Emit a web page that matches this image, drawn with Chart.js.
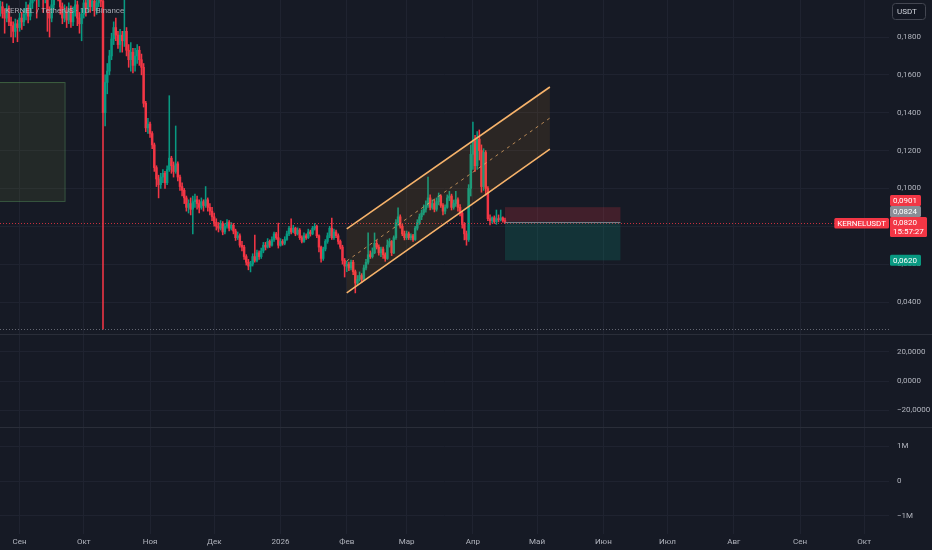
<!DOCTYPE html>
<html lang="ru">
<head>
<meta charset="UTF-8">
<title>KERNELUSDT 1D</title>
<script src="https://cdn.jsdelivr.net/npm/chart.js@4"></script>
<style>
  body { margin: 0; background: #2a2e39; width: 932px; height: 550px; overflow: hidden; position: relative; }
  .pane { position: absolute; left: 0; width: 932px; background: #161a25; }
  #p1 { top: 0; height: 334px; }
  #p2 { top: 335px; height: 92px; }
  #p3 { top: 428px; height: 122px; }
</style>
</head>
<body>
<div class="pane" id="p1"><canvas id="priceChart"></canvas></div>
<div class="pane" id="p2"><canvas id="oscChart"></canvas></div>
<div class="pane" id="p3"><canvas id="volChart"></canvas></div>

<script>
  // Дневные свечи KERNEL/USDT, цены в единицах 0,0001 USDT
  const firstCandle = '2025-08-23';

  const opens = [
    1940,1960,1925,1900,1950,1880,1860,1830,1870,1850,
    1900,1880,1920,1950,1910,1980,2030,2060,2010,2050,
    2080,2020,2060,1930,1900,1970,2040,2080,2030,1960,
    1900,1940,1890,1950,1880,1930,1970,1900,1870,1920,
    1980,1950,2000,1960,1990,1940,1980,2020,1990,1400,
    1560,1620,1700,1790,1850,1810,1760,1810,1780,1830,
    1730,1680,1720,1650,1700,1730,1680,1640,1450,1320,
    1340,1290,1230,1110,1050,1020,1060,1080,1030,1100,
    1160,1120,1090,1130,1060,1010,990,950,900,920,
    890,930,940,920,900,930,910,940,900,880,
    850,820,800,790,815,770,800,820,790,805,
    775,740,750,700,690,640,610,590,600,640,
    620,660,640,670,700,690,720,700,730,760,
    740,700,720,710,730,760,790,770,790,760,
    780,740,720,750,740,770,760,790,800,750,
    690,630,680,720,750,790,740,770,750,720,
    690,620,590,600,580,610,560,500,520,540,
    520,580,610,650,640,660,710,690,660,680,
    650,630,700,720,660,740,820,850,800,760,
    740,760,740,750,730,790,820,850,870,890,
    910,950,900,920,890,930,960,910,880,900,
    950,960,900,920,940,900,870,810,760,730,
    1000,1180,1250,1120,1260,1200,1010,1190,1000,840,
    830,845,825,840,835,845,830
  ];
  const highs = [
    1990,1985,1950,1975,1965,1905,1880,1895,1890,1925,
    1930,1950,1985,1970,2010,2060,2100,2080,2090,2120,
    2100,2090,2070,1960,2000,2070,2110,2100,2050,1980,
    1970,1960,1980,1965,1960,2000,1990,1930,1950,2010,
    2000,2030,2020,2020,2010,2010,2050,2040,2030,1600,
    1660,1730,1820,1880,1900,1830,1840,1830,2000,1850,
    1760,1770,1740,1740,1760,1750,1710,1660,1460,1370,
    1350,1300,1240,1120,1070,1080,1100,1090,1120,1490,
    1170,1140,1330,1140,1070,1030,1000,960,940,950,
    960,970,960,940,950,940,1010,950,920,900,
    870,840,820,830,825,815,835,830,820,815,
    785,770,760,720,700,650,625,615,655,754,
    675,670,685,715,715,735,728,745,770,768,
    817,735,730,745,775,800,839,805,795,792,
    788,750,765,760,785,780,800,815,807,755,
    695,690,730,765,800,844,785,780,760,728,
    700,630,615,611,622,620,569,540,559,550,
    595,625,765,670,686,765,725,702,690,690,
    660,728,735,725,750,835,897,860,810,775,
    775,770,760,758,800,835,865,886,913,935,
    1060,966,940,939,950,976,966,920,913,966,
    985,970,939,985,950,915,880,820,775,1020,
    1230,1351,1280,1300,1309,1230,1210,1200,1010,860,
    850,855,886,860,886,850,844
  ];
  const lows = [
    1910,1900,1820,1880,1860,1800,1770,1800,1775,1830,
    1840,1860,1890,1875,1890,1950,1990,1900,1960,2010,
    1930,1980,1830,1800,1880,1950,2000,1990,1920,1870,
    1880,1850,1870,1850,1860,1910,1860,1820,1780,1900,
    1910,1930,1930,1940,1910,1920,1960,1960,257,1330,
    1500,1600,1680,1760,1780,1740,1720,1720,1750,1700,
    1640,1620,1610,1620,1660,1650,1600,1430,1300,1290,
    1270,1210,1090,1010,950,1000,1030,1000,1020,1090,
    1080,1060,1080,1040,990,960,920,880,870,860,
    760,900,890,870,890,880,900,880,860,830,
    800,780,770,780,755,760,790,775,780,760,
    725,730,690,670,625,595,570,559,590,610,
    612,625,630,660,675,685,688,695,720,730,
    685,695,700,702,725,750,760,765,750,754,
    730,712,715,730,735,748,755,780,740,664,
    611,620,670,710,740,730,730,740,705,680,
    600,532,560,565,569,545,448,490,510,505,
    515,570,600,630,632,655,680,648,640,630,
    615,625,690,645,655,730,805,790,750,728,
    730,730,728,720,725,780,810,835,860,875,
    900,886,890,876,880,913,900,860,865,895,
    935,886,890,905,880,855,790,728,700,720,
    960,1100,1090,1100,1150,980,990,965,830,807,
    817,815,810,823,828,822,815
  ];
  const closes = [
    1960,1925,1900,1950,1880,1860,1830,1870,1850,1900,
    1880,1920,1950,1910,1980,2030,2060,2010,2050,2080,
    2020,2060,1930,1900,1970,2040,2080,2030,1960,1900,
    1940,1890,1950,1880,1930,1970,1900,1870,1920,1980,
    1950,2000,1960,1990,1940,1980,2020,1990,1400,1560,
    1620,1700,1790,1850,1810,1760,1810,1780,1830,1730,
    1680,1720,1650,1700,1730,1680,1640,1450,1320,1340,
    1290,1230,1110,1050,1020,1060,1080,1030,1100,1160,
    1120,1090,1130,1060,1010,990,950,900,920,890,
    930,940,920,900,930,910,940,900,880,850,
    820,800,790,815,770,800,820,790,805,775,
    740,750,700,690,640,610,590,600,640,620,
    660,640,670,700,690,720,700,730,760,740,
    700,720,710,730,760,790,770,790,760,780,
    740,720,750,740,770,760,790,800,750,690,
    630,680,720,750,790,740,770,750,720,690,
    620,590,600,580,610,560,500,520,540,520,
    580,610,650,640,660,710,690,660,680,650,
    630,700,720,660,740,820,850,800,760,740,
    760,740,750,730,790,820,850,870,890,910,
    950,900,920,890,930,960,910,880,900,950,
    960,900,920,940,900,870,810,760,730,1000,
    1180,1250,1120,1260,1200,1010,1190,1000,840,830,
    845,825,840,835,845,830,820
  ];

  const priceTicks = [0.04, 0.06, 0.08, 0.10, 0.12, 0.14, 0.16, 0.18];
  const monthStarts = ['2025-09-01','2025-10-01','2025-11-01','2025-12-01','2026-01-01','2026-02-01','2026-03-01',
                       '2026-04-01','2026-05-01','2026-06-01','2026-07-01','2026-08-01','2026-09-01','2026-10-01'];
  const monthLabels = ['Сен','Окт','Ноя','Дек','2026','Фев','Мар','Апр','Май','Июн','Июл','Авг','Сен','Окт'];
  const oscTicks = [-20, 0, 20];
  const volTicks = [-1000000, 0, 1000000];
  const volLabels = ['−1M', '0', '1M'];

  // рисунки на графике
  const channelFrom = '2026-02-01', channelTo = '2026-05-07';
  const channelUpper = [0.0786, 0.1536];
  const channelLower = [0.0448, 0.1208];
  const zoneFrom = '2025-08-01', zoneTo = '2025-09-22';
  const zonePrices = [0.0934, 0.1562];
  const posFrom = '2026-04-16', posTo = '2026-06-09';
  const posEntry = 0.0824, posStop = 0.0901, posTarget = 0.0620;
  const symbol = 'KERNELUSDT';
  const countdown = '15:57:27';
  const title = 'KERNEL / TetherUS · 1D · Binance';

  const UP = '#089981', DOWN = '#f23645';
  const GRID = '#1f2330', TEXT = '#b2b5be';
  const FONT = 'Roboto, sans-serif';

  const DAY0 = Date.UTC(2025, 8, 1);
  function dayOf(s) {
    const p = s.split('-').map(Number);
    return (Date.UTC(p[0], p[1] - 1, p[2]) - DAY0) / 864e5;
  }
  const fmt = v => v.toFixed(4).replace('.', ',');

  const start = dayOf(firstCandle);
  const bodies = closes.map((c, i) => ({ x: start + i, y: [opens[i] * 1e-4, c * 1e-4] }));
  const wicks = closes.map((c, i) => ({ x: start + i, y: [lows[i] * 1e-4, highs[i] * 1e-4] }));
  const colors = closes.map((c, i) => c >= opens[i] ? UP : DOWN);
  const lastClose = closes[closes.length - 1] * 1e-4;
  const lowest = Math.min(...lows) * 1e-4;

  function xAxis(showLabels) {
    return {
      type: 'linear', min: -9.17, max: 406.6, offset: false,
      grid: { color: GRID, drawTicks: false, offset: false },
      border: { display: false },
      ticks: {
        display: showLabels, color: TEXT, font: { size: 8, family: FONT },
        padding: 3, autoSkip: false, maxRotation: 0,
        callback: (v, i) => monthLabels[i]
      },
      afterBuildTicks: s => { s.ticks = monthStarts.map(d => ({ value: dayOf(d) })); },
      afterFit: s => { s.height = showLabels ? 16 : 0; s.paddingLeft = 0; s.paddingRight = 0; }
    };
  }

  function yAxis(min, max, ticks, label) {
    return {
      position: 'right', min: min, max: max,
      grid: { color: GRID, drawTicks: false },
      border: { display: false },
      ticks: { color: TEXT, font: { size: 8, family: FONT }, padding: 8, callback: label },
      afterBuildTicks: s => { s.ticks = ticks.map(v => ({ value: v })); },
      afterFit: s => { s.width = 43; s.paddingTop = 0; s.paddingBottom = 0; }
    };
  }

  function line(ctx, x1, y1, x2, y2) {
    ctx.beginPath(); ctx.moveTo(x1, y1); ctx.lineTo(x2, y2); ctx.stroke();
  }

  function box(ctx, x, y, w, h, bg, lines) {
    ctx.fillStyle = bg;
    ctx.beginPath(); ctx.roundRect(x, y, w, h, 1.5); ctx.fill();
    ctx.fillStyle = '#ffffff';
    ctx.textBaseline = 'middle'; ctx.textAlign = 'left';
    lines.forEach((t, i) => ctx.fillText(t, x + 3, y + 5.8 + i * 9));
  }

  const drawings = {
    id: 'drawings',
    afterDatasetsDraw(chart) {
      const { ctx, chartArea: a, scales: { x, y } } = chart;
      ctx.save();
      ctx.beginPath(); ctx.rect(a.left, a.top, a.right - a.left, a.bottom - a.top); ctx.clip();

      // зона слева
      const zx1 = x.getPixelForValue(dayOf(zoneFrom)), zx2 = x.getPixelForValue(dayOf(zoneTo));
      const zy1 = y.getPixelForValue(zonePrices[1]), zy2 = y.getPixelForValue(zonePrices[0]);
      ctx.fillStyle = 'rgba(120,150,60,0.13)';
      ctx.fillRect(zx1, zy1, zx2 - zx1, zy2 - zy1);
      ctx.strokeStyle = 'rgba(90,150,90,0.5)'; ctx.lineWidth = 1;
      ctx.strokeRect(zx1, zy1 + 0.5, zx2 - zx1 + 0.5, zy2 - zy1);

      // линия текущей цены и минимума
      ctx.setLineDash([1, 2]); ctx.lineWidth = 1;
      ctx.strokeStyle = 'rgba(242,54,69,0.8)';
      const py = Math.round(y.getPixelForValue(lastClose)) + 0.5;
      line(ctx, a.left, py, a.right, py);
      ctx.strokeStyle = 'rgba(120,123,134,0.8)';
      const ly = Math.round(y.getPixelForValue(lowest)) + 0.5;
      line(ctx, a.left, ly, a.right, ly);
      ctx.setLineDash([]);

      // канал
      const cx1 = x.getPixelForValue(dayOf(channelFrom)), cx2 = x.getPixelForValue(dayOf(channelTo));
      const u1 = y.getPixelForValue(channelUpper[0]), u2 = y.getPixelForValue(channelUpper[1]);
      const l1 = y.getPixelForValue(channelLower[0]), l2 = y.getPixelForValue(channelLower[1]);
      ctx.fillStyle = 'rgba(255,167,38,0.09)';
      ctx.beginPath(); ctx.moveTo(cx1, u1); ctx.lineTo(cx2, u2); ctx.lineTo(cx2, l2); ctx.lineTo(cx1, l1); ctx.closePath(); ctx.fill();
      ctx.strokeStyle = '#f7b36b'; ctx.lineWidth = 1.6;
      line(ctx, cx1, u1, cx2, u2);
      line(ctx, cx1, l1, cx2, l2);
      ctx.setLineDash([3, 4]); ctx.lineWidth = 1; ctx.strokeStyle = 'rgba(247,179,107,0.7)';
      line(ctx, cx1, (u1 + l1) / 2, cx2, (u2 + l2) / 2);
      ctx.setLineDash([]);

      // позиция шорт
      const px1 = x.getPixelForValue(dayOf(posFrom)), px2 = x.getPixelForValue(dayOf(posTo));
      const ye = y.getPixelForValue(posEntry), ys = y.getPixelForValue(posStop), yt = y.getPixelForValue(posTarget);
      ctx.fillStyle = 'rgba(242,54,69,0.2)';
      ctx.fillRect(px1, ys, px2 - px1, ye - ys);
      ctx.fillStyle = 'rgba(8,153,129,0.2)';
      ctx.fillRect(px1, ye, px2 - px1, yt - ye);
      ctx.strokeStyle = '#787b86'; ctx.lineWidth = 1;
      line(ctx, px1, Math.round(ye) + 0.5, px2, Math.round(ye) + 0.5);
      ctx.restore();
    },
    afterDraw(chart) {
      const { ctx, chartArea: a, scales: { y } } = chart;
      ctx.save();
      ctx.font = '8px ' + FONT;
      ctx.fillStyle = 'rgba(178,181,190,0.9)';
      ctx.textBaseline = 'middle'; ctx.textAlign = 'left';
      ctx.fillText(title, 5, 11);

      // кнопка валюты
      ctx.fillStyle = '#131722'; ctx.strokeStyle = '#434651'; ctx.lineWidth = 1;
      ctx.beginPath(); ctx.roundRect(892.5, 3.5, 33, 16, 3); ctx.fill(); ctx.stroke();
      ctx.fillStyle = '#d1d4dc'; ctx.font = '8px ' + FONT;
      ctx.fillText('USDT', 897, 12);

      // метки цен на шкале
      const labels = [
        { v: posTarget, lines: [fmt(posTarget)], bg: UP },
        { v: lastClose, lines: [fmt(lastClose), countdown], bg: DOWN },
        { v: posEntry, lines: [fmt(posEntry)], bg: '#8a8d96' },
        { v: posStop, lines: [fmt(posStop)], bg: DOWN }
      ];
      let limit = Infinity;
      ctx.font = '8px ' + FONT;
      labels.forEach(l => {
        const h = l.lines.length > 1 ? 20 : 11;
        let top = y.getPixelForValue(l.v) - 5.5;
        if (top + h > limit) top = limit - h;
        limit = top;
        const w = l.lines.length > 1 ? 37 : 31;
        box(ctx, a.right + 1, top, w, h, l.bg, l.lines);
        if (l.v === lastClose) {
          const sw = ctx.measureText(symbol).width + 6;
          box(ctx, a.right - sw, top + 1, sw, 10.5, DOWN, [symbol]);
        }
      });
      ctx.restore();
    }
  };

  const common = {
    responsive: true,
    maintainAspectRatio: false,
    animation: false,
    layout: { padding: 0, autoPadding: false },
    plugins: { legend: { display: false }, tooltip: { enabled: false } }
  };

  new Chart(document.getElementById('priceChart'), {
    type: 'bar',
    data: {
      datasets: [
        { data: bodies, backgroundColor: colors, barThickness: 1.8, grouped: false, order: 0, clip: 0, minBarLength: 1 },
        { data: wicks, backgroundColor: colors, barThickness: 0.9, grouped: false, order: 1, clip: 0 }
      ]
    },
    options: Object.assign({}, common, {
      scales: {
        x: xAxis(false),
        y: yAxis(0.0231, 0.19955, priceTicks, v => fmt(v))
      }
    }),
    plugins: [drawings]
  });

  new Chart(document.getElementById('oscChart'), {
    type: 'line',
    data: { datasets: [] },
    options: Object.assign({}, common, {
      scales: {
        x: xAxis(false),
        y: yAxis(-31.7, 31.7, oscTicks, v => (v < 0 ? '−' : '') + fmt(Math.abs(v)))
      }
    })
  });

  new Chart(document.getElementById('volChart'), {
    type: 'line',
    data: { datasets: [] },
    options: Object.assign({}, common, {
      scales: {
        x: xAxis(true),
        y: yAxis(-1536000, 1536000, volTicks, (v, i) => volLabels[i])
      }
    })
  });
</script>
</body>
</html>
